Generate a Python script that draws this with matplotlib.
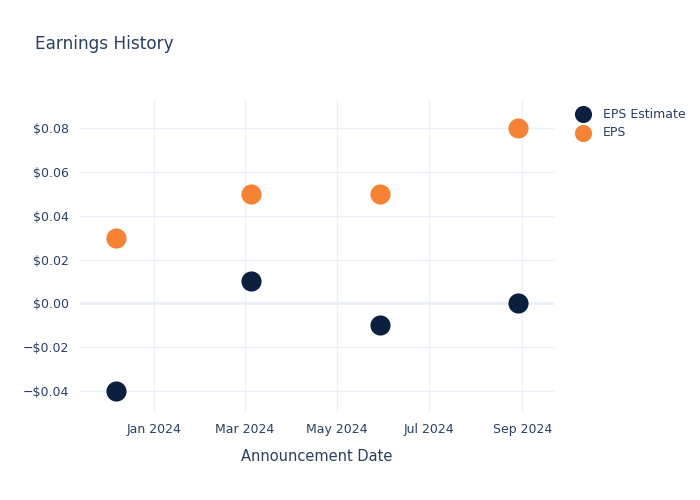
import matplotlib
matplotlib.use("Agg")
import matplotlib.pyplot as plt
import matplotlib.dates as mdates
import matplotlib.ticker as mticker
from datetime import datetime

# --- données ---
dates = [datetime(2023, 12, 7), datetime(2024, 3, 5), datetime(2024, 5, 30), datetime(2024, 8, 29)]
eps_estimate = [-0.04, 0.01, -0.01, 0.00]
eps_actual = [0.03, 0.05, 0.05, 0.08]

TXT = "#2a3f5f"
GRID = "#ebf0f8"
NAVY = "#0b1f3f"
ORANGE = "#f58235"

plt.rcParams['font.family'] = ['DejaVu Sans']

fig = plt.figure(figsize=(7, 5), dpi=100)
ax = fig.add_axes([80 / 700, 88 / 500, 474 / 700, 312 / 500])

ax.scatter(dates, eps_estimate, s=210, c=NAVY, label="EPS Estimate", zorder=3, linewidths=0)
ax.scatter(dates, eps_actual, s=210, c=ORANGE, label="EPS", zorder=3, linewidths=0)

ax.set_xlim(datetime(2023, 11, 13), datetime(2024, 9, 22))
ax.set_ylim(-0.0497, 0.0929)

ax.xaxis.set_major_locator(mdates.MonthLocator(bymonth=[1, 3, 5, 7, 9]))
ax.xaxis.set_major_formatter(mdates.DateFormatter("%b %Y"))
ax.yaxis.set_major_locator(mticker.MultipleLocator(0.02))


def fmt_dollar(v, pos):
    if abs(v) < 1e-9:
        return "$0.00"
    s = f"${abs(v):.2f}"
    return "\u2212" + s if v < 0 else s


ax.yaxis.set_major_formatter(mticker.FuncFormatter(fmt_dollar))

ax.grid(True, color=GRID, linewidth=1, zorder=0)
ax.axhline(0, color=GRID, linewidth=2, zorder=1)
for sp in ax.spines.values():
    sp.set_visible(False)
ax.tick_params(length=0, colors=TXT, labelsize=9, pad=8)
ax.set_xlabel("Announcement Date", color=TXT, fontsize=10.5, labelpad=9)

fig.text(35 / 700, 1 - 44 / 500, "Earnings History", color=TXT, fontsize=12.2, va="center")

leg = fig.legend(loc="upper left", bbox_to_anchor=(562 / 700, 1 - 99 / 500), frameon=False,
                 fontsize=9, labelcolor=TXT, handletextpad=0.6, labelspacing=0.45,
                 markerscale=0.85, borderpad=0.2)

fig.savefig("out.png", dpi=100)
